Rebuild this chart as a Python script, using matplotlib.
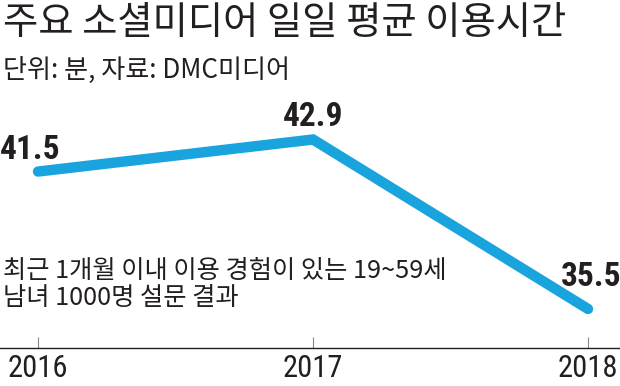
#!/usr/bin/env python3

import matplotlib
matplotlib.use("Agg")
import matplotlib.pyplot as plt

years = [2016, 2017, 2018]
minutes = [41.5, 42.9, 35.5]
value_labels = ["41.5", "42.9", "35.5"]
tick_labels = ["2016", "2017", "2018"]

title = "주요 소셜미디어 일일 평균 이용시간"
subtitle = "단위: 분, 자료: DMC미디어"
note = "최근 1개월 이내 이용 경험이 있는 19~59세\n남녀 1000명 설문 결과"

kr = ["Noto Sans CJK KR", "DejaVu Sans"]
num = ["Roboto Condensed", "Liberation Sans Narrow", "Liberation Sans", "DejaVu Sans"]
ink = "#231f20"
blue = "#19a4de"

W, H = 620, 386
axis_y = 348    # pixel row of the baseline axis
top_y = 100
px_per_unit = 22.9
y_ref = 139.5   # pixel row of 42.9

fig = plt.figure(figsize=(W / 100, H / 100), dpi=100)
ax = fig.add_axes([0, (H - axis_y) / H, 1, (axis_y - top_y) / H])

ax.plot(years, minutes, color=blue, lw=7.5, solid_capstyle="round",
        solid_joinstyle="miter")

ax.set_xlim(2016 - 38 / 275, 2016 + (W - 38) / 275)
ax.set_ylim(42.9 - (axis_y - y_ref) / px_per_unit,
            42.9 + (y_ref - top_y) / px_per_unit)

# label offsets in points (dx, dy) relative to the data point
offsets = [(-5.4, 9.4), (0, 9.7), (2.2, 16.6)]
for x, y, lab, off in zip(years, minutes, value_labels, offsets):
    ax.annotate(lab, (x, y), xytext=off, textcoords="offset points",
                ha="center", va="baseline", fontsize=24, fontweight="bold",
                family=num, color=ink)

for s in ["top", "left", "right"]:
    ax.spines[s].set_visible(False)
ax.spines["bottom"].set_color(ink)
ax.spines["bottom"].set_linewidth(1.0)
ax.set_yticks([])
ax.set_xticks(years)
ax.set_xticklabels(tick_labels, family=num, fontsize=22, color=ink)
ax.tick_params(axis="x", direction="in", length=8, width=0.8, color="#888888",
               pad=4)
ax.xaxis.get_major_ticks()[1].tick1line.set_color(ink)
ax.patch.set_alpha(0)

fig.text(3 / W, 1 - 4 / H, title, family=kr, fontsize=27.6, color=ink,
         ha="left", va="top")
fig.text(3 / W, 1 - 57 / H, subtitle, family=kr, fontsize=18.8, color=ink,
         ha="left", va="top")
fig.text(3 / W, 1 - 258 / H, note, family=kr, fontsize=18.2, color=ink,
         ha="left", va="top", linespacing=1.05)

fig.savefig("out.png", dpi=100)
